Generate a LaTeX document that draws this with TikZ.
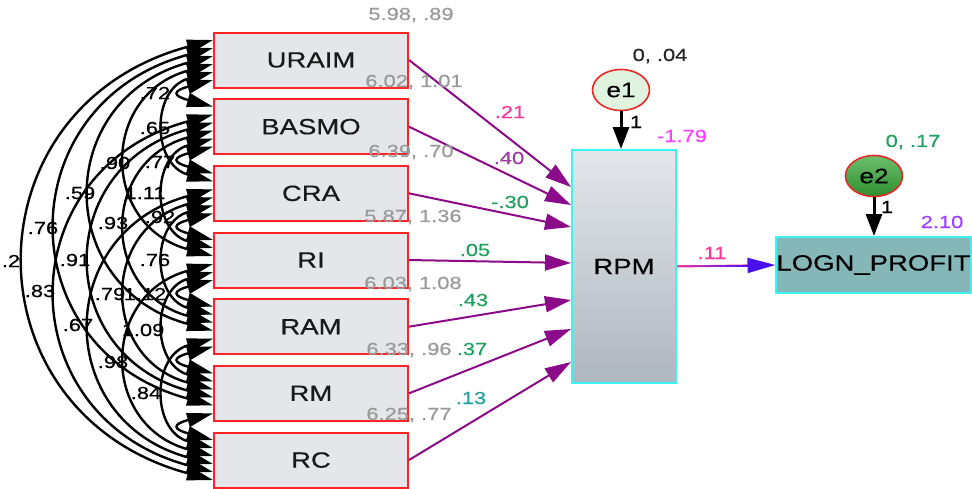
\documentclass[tikz,border=0pt]{standalone}
\usepackage{fontspec}
\setmainfont[FakeStretch=1.25,FakeBold=0.5]{Liberation Sans}
\usetikzlibrary{arrows.meta,calc,shapes.geometric}

\definecolor{boxfill}{HTML}{E4E6E9}
\definecolor{boxline}{HTML}{FF2424}
\definecolor{cyanline}{HTML}{3CF4F4}
\definecolor{rpmtop}{HTML}{E4E7EA}
\definecolor{rpmbot}{HTML}{AEB6C0}
\definecolor{lognfill}{HTML}{86B7B8}
\definecolor{pathpurple}{HTML}{8A0A8A}
\definecolor{valgray}{HTML}{9A9A9A}
\definecolor{lblpink}{HTML}{FF3399}
\definecolor{lblmag}{HTML}{FF40FF}
\definecolor{lblpurple}{HTML}{A03CA0}
\definecolor{lblgreen}{HTML}{22A060}
\definecolor{lblteal}{HTML}{22A0A0}
\definecolor{lblviolet}{HTML}{A040FF}
\definecolor{linkpink}{HTML}{F0389A}
\definecolor{linkblue}{HTML}{4A10F0}
\definecolor{eonefill}{HTML}{DFF3DF}
\definecolor{etwotop}{HTML}{6CC06C}
\definecolor{etwobot}{HTML}{2E8E2E}
\definecolor{ering}{HTML}{E82828}

\begin{document}
\begin{tikzpicture}[x=1pt,y=1pt,
  obs/.style={draw=boxline, line width=2pt, fill=boxfill, minimum width=194pt,
    minimum height=55pt, inner sep=0pt, text=black!90, font=\fontsize{22}{22}\selectfont},
  val/.style={inner sep=0pt, font=\fontsize{17.5}{17.5}\selectfont},
  regpath/.style={draw=pathpurple, line width=2pt, -{Triangle[length=26pt,width=16pt]}},
  cov/.style={draw=black, line width=2.4pt,
    {Triangle[length=26pt,width=14pt]}-{Triangle[length=26pt,width=14pt]}},
  errarrow/.style={draw=black, line width=3pt, -{Triangle[length=22pt,width=16pt]}},
  errnode/.style={ellipse, draw=ering, line width=1.6pt, minimum width=57pt,
    minimum height=41pt, inner sep=0pt, font=\fontsize{21}{21}\selectfont}
]
\useasboundingbox (0,0) rectangle (972,-488);

% observed predictors
\foreach \txt [count=\i] in {URAIM,BASMO,CRA,RI,RAM,RM,RC}{
  \node[obs] (v\i) at (311,{-60-66.67*(\i-1)}) {\txt};
}

% endogenous variables
\node[draw=cyanline, line width=2pt, top color=rpmtop, bottom color=rpmbot,
  minimum width=104pt, minimum height=233pt, inner sep=0pt,
  font=\fontsize{22}{22}\selectfont] (rpm) at (624,-266.5) {RPM};
\node[draw=cyanline, line width=2pt, fill=lognfill, minimum width=193pt,
  minimum height=56pt, inner sep=0pt, font=\fontsize{22}{22}\selectfont]
  (logn) at (873.5,-265) {LOGN\_PROFIT};

% error terms
\node[errnode, fill=eonefill] (e1) at (621,-90) {e1};
\node[errnode, top color=etwotop, bottom color=etwobot] (e2) at (874,-176) {e2};

% attachment points of the covariance arcs on each box
\foreach \i in {1,...,7}{
  \foreach \j in {1,...,7}{
    \ifnum\i=\j\relax\else
      \ifnum\j<\i
        \pgfmathtruncatemacro\k{\i-1-\j}
      \else
        \pgfmathtruncatemacro\k{6-\j+\i}
      \fi
      \coordinate (p\i-\j) at ($(v\i.west)+(0,{20-8*\k})$);
    \fi
  }
}

% covariances: control length grows with the span of the pair
\foreach \i in {1,...,6}{
  \pgfmathtruncatemacro\nxt{\i+1}
  \foreach \j in {\nxt,...,7}{
    \pgfmathsetmacro\cl{{42,64,117,166,213,257}[\j-\i-1]}
    \draw[cov] (p\i-\j) .. controls +(195:\cl) and +(165:\cl) .. (p\j-\i);
  }
}

% covariance estimates
\node[val] (c12) at (155,-93) {.72};
\node[val] (c13) at (155,-128) {.65};
\node[val] (c14) at (115,-163) {.90};
\node[val] (c23) at (160,-162) {.77};
\node[val] (c15) at (80,-193) {.59};
\node[val] (c24) at (145,-193) {1.11};
\node[val] (c34) at (160,-217) {.92};
\node[val] (c25) at (113,-223) {.93};
\node[val] (c16) at (43,-228) {.76};
\node[val] (c17) at (11,-261) {.2};
\node[val] (c26) at (75,-260) {.91};
\node[val] (c35) at (155,-260) {.76};
\node[val] (c27) at (40,-291) {.83};
\node[val] (c36) at (110,-294) {.79};
\node[val] (c45) at (145,-294) {1.12};
\node[val] (c37) at (78,-325) {.67};
\node[val] (c46) at (143,-330) {1.09};
\node[val] (c47) at (113,-362) {.98};
\node[val] (c57) at (146,-393) {.84};

% regression paths
\draw[regpath] (v1.east) -- ($(rpm.west)+(0,79.5)$);
\draw[regpath] (v2.east) -- ($(rpm.west)+(0,61.5)$);
\draw[regpath] (v3.east) -- ($(rpm.west)+(0,39.5)$);
\draw[regpath] (v4.east) -- ($(rpm.west)+(0,3.5)$);
\draw[regpath] (v5.east) -- ($(rpm.west)+(0,-33.5)$);
\draw[regpath] (v6.east) -- ($(rpm.west)+(0,-62.5)$);
\draw[regpath] (v7.east) -- ($(rpm.west)+(0,-95.5)$);

\draw[errarrow] (e1.south) -- (e1.south |- rpm.north);
\draw[errarrow] (e2.south) -- (e2.south |- logn.north);

\draw[draw=linkpink, line width=2pt,
  -{Triangle[length=28pt,width=15pt,color=linkblue]}] (rpm.east) -- (logn.west);
\shade[left color=linkpink, right color=linkblue]
  ($(rpm.east)+(1,1)$) rectangle ($(logn.west)+(-27,-1)$);

% means and variances
\node[val, text=valgray] (m1) at (411,-15) {5.98, .89};
\node[val, text=valgray] (m2) at (414,-82) {6.02, 1.01};
\node[val, text=valgray] (m3) at (411,-152) {6.39, .70};
\node[val, text=valgray] (m4) at (413,-217) {5.87, 1.36};
\node[val, text=valgray] (m5) at (413,-284) {6.03, 1.08};
\node[val, text=valgray] (m6) at (409,-350) {6.33, .96};
\node[val, text=valgray] (m7) at (409,-415) {6.25, .77};

% path coefficients
\node[val, text=lblpink] (b1) at (510,-112) {.21};
\node[val, text=lblpurple] (b2) at (509,-158) {.40};
\node[val, text=lblgreen] (b3) at (510,-202) {-.30};
\node[val, text=lblgreen] (b4) at (475,-250) {.05};
\node[val, text=lblgreen] (b5) at (473,-300) {.43};
\node[val, text=lblgreen] (b6) at (472,-349) {.37};
\node[val, text=lblteal] (b7) at (471,-398) {.13};
\node[val, text=lblpink] (b8) at (712,-253) {.11};

% error and intercept labels
\node[val, text=black!85] (ve1) at (660,-56) {0, .04};
\node[val] (w1) at (636,-122) {1};
\node[val, text=lblmag] (i1) at (682,-136) {-1.79};
\node[val, text=lblgreen] (ve2) at (913,-142) {0, .17};
\node[val] (w2) at (887,-207) {1};
\node[val, text=lblviolet] (i2) at (942,-222) {2.10};
\end{tikzpicture}
\end{document}
